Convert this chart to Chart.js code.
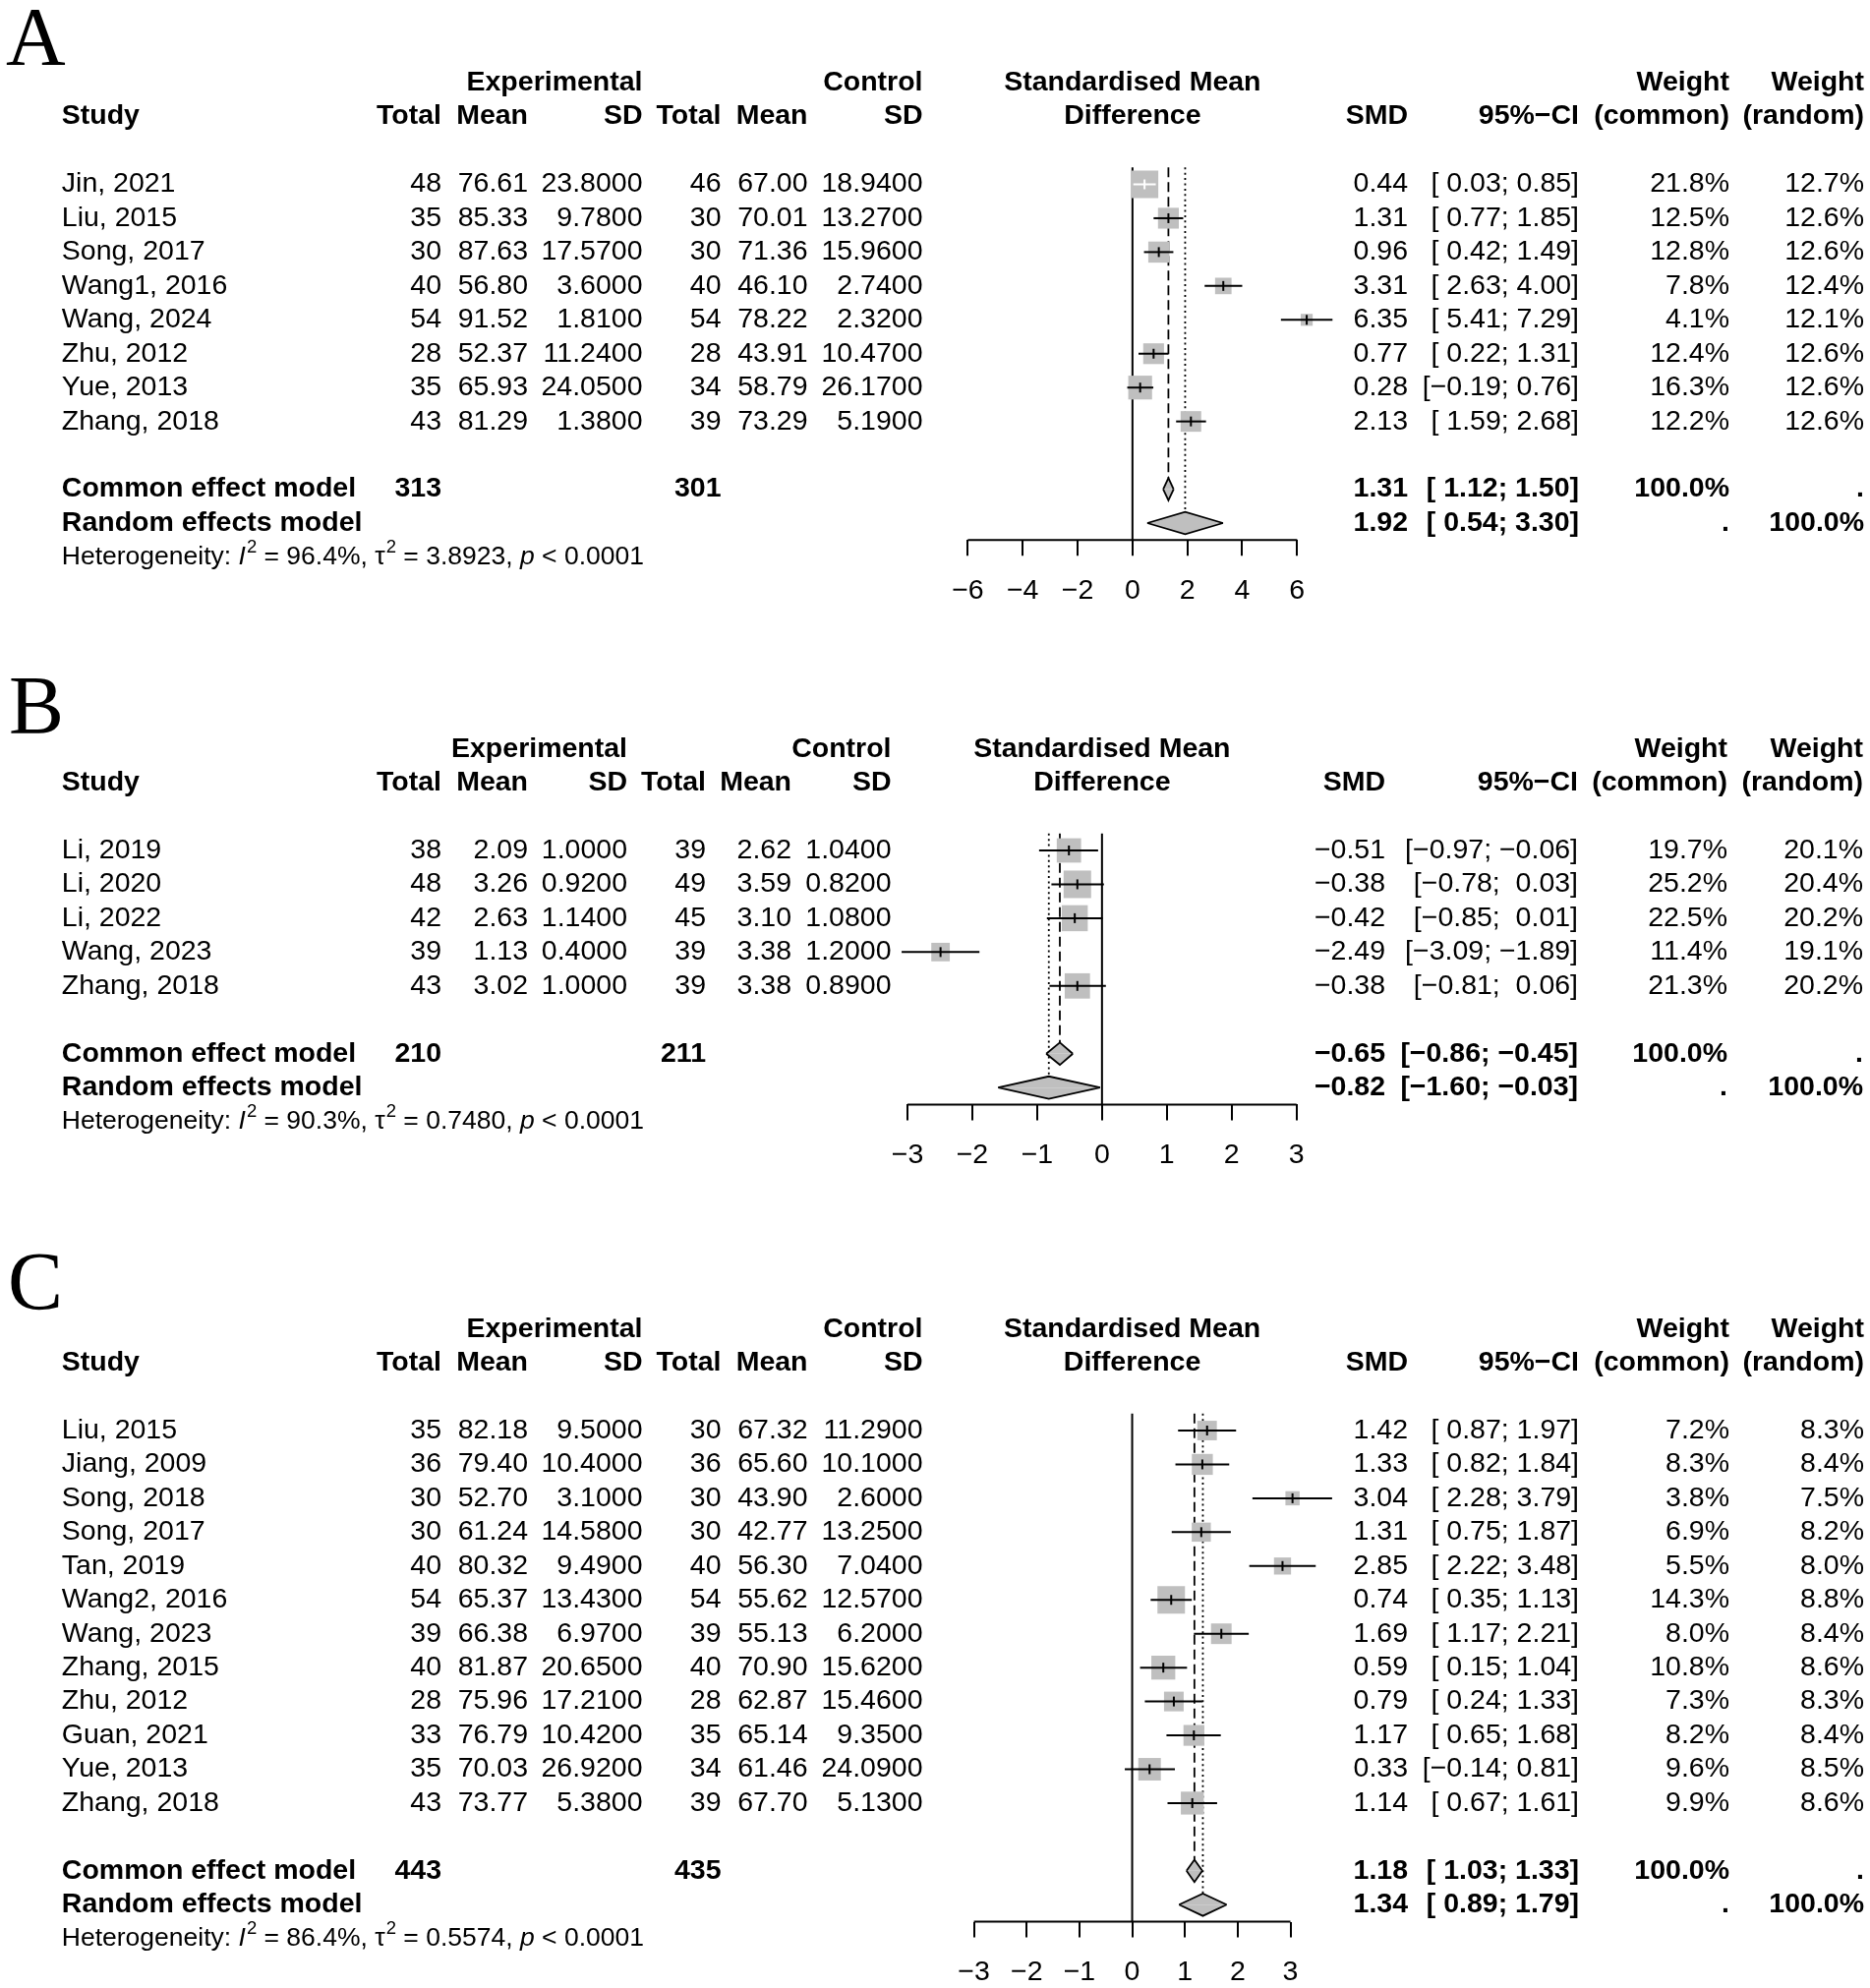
<!DOCTYPE html>
<html>
<head>
<meta charset="utf-8">
<title>Forest plots</title>
<script src="https://cdn.jsdelivr.net/npm/chart.js@4.4.1/dist/chart.umd.min.js"></script>
<style>
  html, body { margin: 0; padding: 0; background: #fff; }
  #page { position: relative; width: 1902px; height: 2022px; overflow: hidden; }
  canvas { position: absolute; left: 0; }
</style>
</head>
<body>
<div id="page">
  <canvas id="panelA"></canvas>
  <canvas id="panelB"></canvas>
  <canvas id="panelC"></canvas>
</div>
<script>
// Panel A
const studiesA = ["Jin, 2021", "Liu, 2015", "Song, 2017", "Wang1, 2016", "Wang, 2024", "Zhu, 2012", "Yue, 2013", "Zhang, 2018"];
const expTotalA = [48, 35, 30, 40, 54, 28, 35, 43];
const expMeanA = [76.61, 85.33, 87.63, 56.80, 91.52, 52.37, 65.93, 81.29];
const expSdA = [23.8, 9.78, 17.57, 3.6, 1.81, 11.24, 24.05, 1.38];
const ctrlTotalA = [46, 30, 30, 40, 54, 28, 34, 39];
const ctrlMeanA = [67.00, 70.01, 71.36, 46.10, 78.22, 43.91, 58.79, 73.29];
const ctrlSdA = [18.94, 13.27, 15.96, 2.74, 2.32, 10.47, 26.17, 5.19];
const smdA = [0.44, 1.31, 0.96, 3.31, 6.35, 0.77, 0.28, 2.13];
const lowerA = [0.03, 0.77, 0.42, 2.63, 5.41, 0.22, -0.19, 1.59];
const upperA = [0.85, 1.85, 1.49, 4.00, 7.29, 1.31, 0.76, 2.68];
const wCommonA = [21.8, 12.5, 12.8, 7.8, 4.1, 12.4, 16.3, 12.2];
const wRandomA = [12.7, 12.6, 12.6, 12.4, 12.1, 12.6, 12.6, 12.6];
const commonA = [1.31, 1.12, 1.50];
const randomA = [1.92, 0.54, 3.30];
const totalsA = [313, 301];
const hetA = [96.4, 3.8923];
const ticksA = [-6, -4, -2, 0, 2, 4, 6];

// Panel B
const studiesB = ["Li, 2019", "Li, 2020", "Li, 2022", "Wang, 2023", "Zhang, 2018"];
const expTotalB = [38, 48, 42, 39, 43];
const expMeanB = [2.09, 3.26, 2.63, 1.13, 3.02];
const expSdB = [1.0, 0.92, 1.14, 0.40, 1.0];
const ctrlTotalB = [39, 49, 45, 39, 39];
const ctrlMeanB = [2.62, 3.59, 3.10, 3.38, 3.38];
const ctrlSdB = [1.04, 0.82, 1.08, 1.20, 0.89];
const smdB = [-0.51, -0.38, -0.42, -2.49, -0.38];
const lowerB = [-0.97, -0.78, -0.85, -3.09, -0.81];
const upperB = [-0.06, 0.03, 0.01, -1.89, 0.06];
const wCommonB = [19.7, 25.2, 22.5, 11.4, 21.3];
const wRandomB = [20.1, 20.4, 20.2, 19.1, 20.2];
const commonB = [-0.65, -0.86, -0.45];
const randomB = [-0.82, -1.60, -0.03];
const totalsB = [210, 211];
const hetB = [90.3, 0.7480];
const ticksB = [-3, -2, -1, 0, 1, 2, 3];

// Panel C
const studiesC = ["Liu, 2015", "Jiang, 2009", "Song, 2018", "Song, 2017", "Tan, 2019", "Wang2, 2016", "Wang, 2023", "Zhang, 2015", "Zhu, 2012", "Guan, 2021", "Yue, 2013", "Zhang, 2018"];
const expTotalC = [35, 36, 30, 30, 40, 54, 39, 40, 28, 33, 35, 43];
const expMeanC = [82.18, 79.40, 52.70, 61.24, 80.32, 65.37, 66.38, 81.87, 75.96, 76.79, 70.03, 73.77];
const expSdC = [9.50, 10.40, 3.10, 14.58, 9.49, 13.43, 6.97, 20.65, 17.21, 10.42, 26.92, 5.38];
const ctrlTotalC = [30, 36, 30, 30, 40, 54, 39, 40, 28, 35, 34, 39];
const ctrlMeanC = [67.32, 65.60, 43.90, 42.77, 56.30, 55.62, 55.13, 70.90, 62.87, 65.14, 61.46, 67.70];
const ctrlSdC = [11.29, 10.10, 2.60, 13.25, 7.04, 12.57, 6.20, 15.62, 15.46, 9.35, 24.09, 5.13];
const smdC = [1.42, 1.33, 3.04, 1.31, 2.85, 0.74, 1.69, 0.59, 0.79, 1.17, 0.33, 1.14];
const lowerC = [0.87, 0.82, 2.28, 0.75, 2.22, 0.35, 1.17, 0.15, 0.24, 0.65, -0.14, 0.67];
const upperC = [1.97, 1.84, 3.79, 1.87, 3.48, 1.13, 2.21, 1.04, 1.33, 1.68, 0.81, 1.61];
const wCommonC = [7.2, 8.3, 3.8, 6.9, 5.5, 14.3, 8.0, 10.8, 7.3, 8.2, 9.6, 9.9];
const wRandomC = [8.3, 8.4, 7.5, 8.2, 8.0, 8.8, 8.4, 8.6, 8.3, 8.4, 8.5, 8.6];
const commonC = [1.18, 1.03, 1.33];
const randomC = [1.34, 0.89, 1.79];
const totalsC = [443, 435];
const hetC = [86.4, 0.5574];
const ticksC = [-3, -2, -1, 0, 1, 2, 3];

const FONT = '"Liberation Sans", Arial, sans-serif';
const SIZE = 28.5;
const GRAY = "#bfbfbf";
const MINUS = "\u2212";
const ROW_STEP = 34.45;
const MAX_SQUARE = 28;
const DIAMOND_H = 0.33;
const AXIS_H = 66;

Chart.defaults.font.family = FONT;

function fmt(v, d) {
  return (v < 0 ? MINUS : "") + Math.abs(v).toFixed(d);
}

function padded(v, pad) {
  return (pad && v >= 0 ? " " : "") + fmt(v, 2);
}

function ciText(lo, hi, padLo, padHi) {
  return `[${padded(lo, padLo)}; ${padded(hi, padHi)}]`;
}

function drawHet(ctx, x, y, het) {
  const parts = [
    ["Heterogeneity: ", ""],
    ["I", "italic "],
    ["2", "sup"],
    [` = ${het[0].toFixed(1)}%, `, ""],
    ["\u03c4", ""],
    ["2", "sup"],
    [` = ${het[1].toFixed(4)}, `, ""],
    ["p", "italic "],
    [" < 0.0001", ""],
  ];
  ctx.textAlign = "left";
  let cx = x;
  parts.forEach(([t, s]) => {
    if (s === "sup") {
      ctx.font = `18.5px ${FONT}`;
      ctx.fillText(t, cx + 1, y - 10);
      cx += ctx.measureText(t).width + 1;
    } else {
      ctx.font = `${s}26.5px ${FONT}`;
      ctx.fillText(t, cx, y);
      cx += ctx.measureText(t).width;
    }
  });
}

function makeTextPlugin(p) {
  return {
    id: "forestText",
    afterDraw(chart) {
      const ctx = chart.ctx;
      const n = p.studies.length;
      const yOf = (r) => chart.scales.y.getPixelForValue(r);
      const mid = chart.scales.x.getPixelForValue((p.ticks[0] + p.ticks[p.ticks.length - 1]) / 2);
      const c = p.cols;
      const rc = p.rcols;
      const allLo = p.lower.concat([p.common[1], p.random[1]]);
      const allHi = p.upper.concat([p.common[2], p.random[2]]);
      const padLo = allLo.some((v) => v < 0);
      const padHi = allHi.some((v) => v < 0);

      const put = (text, x, row, align, bold) => {
        ctx.font = `${bold ? "bold " : ""}${SIZE}px ${FONT}`;
        ctx.textAlign = align;
        ctx.fillText(text, x, yOf(row));
      };

      ctx.save();
      ctx.fillStyle = "#000";
      ctx.textBaseline = "alphabetic";
      ctx.font = '84px "Liberation Serif", "Times New Roman", serif';
      ctx.textAlign = "left";
      ctx.fillText(p.letter, p.letterX, p.letterY - p.top);

      ctx.textBaseline = "middle";
      put("Experimental", c[2], -3, "right", true);
      put("Control", c[5], -3, "right", true);
      put("Standardised Mean", mid, -3, "center", true);
      put("Weight", rc[2], -3, "right", true);
      put("Weight", rc[3], -3, "right", true);

      put("Study", 62.8, -2, "left", true);
      put("Total", c[0], -2, "right", true);
      put("Mean", c[1], -2, "right", true);
      put("SD", c[2], -2, "right", true);
      put("Total", c[3], -2, "right", true);
      put("Mean", c[4], -2, "right", true);
      put("SD", c[5], -2, "right", true);
      put("Difference", mid, -2, "center", true);
      put("SMD", rc[0], -2, "right", true);
      put("95%\u2212CI", rc[1], -2, "right", true);
      put("(common)", rc[2], -2, "right", true);
      put("(random)", rc[3], -2, "right", true);

      p.studies.forEach((s, i) => {
        put(s, 62.8, i, "left", false);
        put(String(p.expTotal[i]), c[0], i, "right", false);
        put(p.expMean[i].toFixed(2), c[1], i, "right", false);
        put(p.expSd[i].toFixed(4), c[2], i, "right", false);
        put(String(p.ctrlTotal[i]), c[3], i, "right", false);
        put(p.ctrlMean[i].toFixed(2), c[4], i, "right", false);
        put(p.ctrlSd[i].toFixed(4), c[5], i, "right", false);
        put(fmt(p.smd[i], 2), rc[0], i, "right", false);
        put(ciText(p.lower[i], p.upper[i], padLo, padHi), rc[1], i, "right", false);
        put(p.wCommon[i].toFixed(1) + "%", rc[2], i, "right", false);
        put(p.wRandom[i].toFixed(1) + "%", rc[3], i, "right", false);
      });

      const cr = n + 1;
      put("Common effect model", 62.8, cr, "left", true);
      put(String(p.totals[0]), c[0], cr, "right", true);
      put(String(p.totals[1]), c[3], cr, "right", true);
      put(fmt(p.common[0], 2), rc[0], cr, "right", true);
      put(ciText(p.common[1], p.common[2], padLo, padHi), rc[1], cr, "right", true);
      put("100.0%", rc[2], cr, "right", true);
      put(".", rc[3], cr, "right", true);

      const rr = n + 2;
      put("Random effects model", 62.8, rr, "left", true);
      put(fmt(p.random[0], 2), rc[0], rr, "right", true);
      put(ciText(p.random[1], p.random[2], padLo, padHi), rc[1], rr, "right", true);
      put(".", rc[2], rr, "right", true);
      put("100.0%", rc[3], rr, "right", true);

      drawHet(ctx, 62.8, yOf(n + 3), p.het);
      ctx.restore();
    },
  };
}

function drawForest(p) {
  const canvas = document.getElementById(p.id);
  canvas.width = 1902;
  canvas.height = p.height;
  canvas.style.top = p.top + "px";

  const n = p.studies.length;
  const commonRow = n + 1;
  const randomRow = n + 2;
  const axisRow = n + 2.5;
  const tMin = p.ticks[0];
  const tMax = p.ticks[p.ticks.length - 1];
  const areaTop = p.row0 - 0.5 * ROW_STEP - p.top;
  const axisY = p.row0 + axisRow * ROW_STEP - p.top;
  const pxPerUnit = (p.xRight - p.xLeft) / (tMax - tMin);
  // widen the scale so that marks beyond the last tick are still drawn
  const xMin = Math.min(tMin, ...p.lower) - 0.5;
  const xMax = Math.max(tMax, ...p.upper) + 0.5;
  const padLeft = p.xLeft - (tMin - xMin) * pxPerUnit;
  const padRight = 1902 - (p.xRight + (xMax - tMax) * pxPerUnit);
  const maxW = Math.max(...p.wCommon);
  const side = p.wCommon.map((w) => MAX_SQUARE * Math.sqrt(w / maxW));
  const inside = p.smd.map((v, i) => (p.upper[i] - p.lower[i]) * pxPerUnit < side[i]);

  const datasets = [];
  datasets.push({
    type: "line",
    data: [{ x: tMin, y: axisRow }, { x: tMax, y: axisRow }],
    borderColor: "#000",
    borderWidth: 2,
    pointRadius: 0,
    clip: false,
    order: 7,
  });
  datasets.push({
    type: "line",
    data: [{ x: 0, y: -0.5 }, { x: 0, y: axisRow }],
    borderColor: "#000",
    borderWidth: 2,
    pointRadius: 0,
    clip: false,
    order: 6,
  });
  datasets.push({
    type: "line",
    data: [{ x: p.common[0], y: -0.5 }, { x: p.common[0], y: commonRow - DIAMOND_H }],
    borderColor: "#000",
    borderWidth: 1.8,
    borderDash: [10, 5],
    pointRadius: 0,
    clip: false,
    order: 6,
  });
  datasets.push({
    type: "line",
    data: [{ x: p.random[0], y: -0.5 }, { x: p.random[0], y: randomRow - DIAMOND_H }],
    borderColor: "#000",
    borderWidth: 1.8,
    borderDash: [2, 3.4],
    pointRadius: 0,
    clip: false,
    order: 6,
  });
  datasets.push({
    type: "scatter",
    data: p.smd.map((v, i) => ({ x: v, y: i })),
    pointStyle: "rect",
    pointRadius: side.map((s) => s / Math.SQRT2),
    pointBackgroundColor: GRAY,
    pointBorderColor: GRAY,
    pointBorderWidth: 0,
    clip: false,
    order: 5,
  });
  p.smd.forEach((v, i) => {
    datasets.push({
      type: "line",
      data: [{ x: p.lower[i], y: i }, { x: p.upper[i], y: i }],
      borderColor: inside[i] ? "#fff" : "#000",
      borderWidth: 2,
      pointRadius: 0,
      clip: false,
      order: 4,
    });
  });
  datasets.push({
    type: "scatter",
    data: p.smd.map((v, i) => ({ x: v, y: i })),
    pointStyle: "line",
    pointRotation: 90,
    pointRadius: side.map((s) => Math.min(5, s * 0.42)),
    pointBorderColor: inside.map((b) => (b ? "#fff" : "#000")),
    pointBorderWidth: 2,
    clip: false,
    order: 3,
  });
  [[p.common, commonRow], [p.random, randomRow]].forEach(([est, row]) => {
    [-DIAMOND_H, DIAMOND_H].forEach((h) => {
      datasets.push({
        type: "line",
        data: [{ x: est[1], y: row }, { x: est[0], y: row + h }, { x: est[2], y: row }],
        fill: { value: row },
        backgroundColor: GRAY,
        borderColor: "#000",
        borderWidth: 1.8,
        pointRadius: 0,
        tension: 0,
        clip: false,
        order: 1,
      });
    });
  });

  new Chart(canvas.getContext("2d"), {
    type: "scatter",
    data: { datasets: datasets },
    options: {
      responsive: false,
      animation: false,
      devicePixelRatio: 1,
      events: [],
      layout: {
        padding: {
          left: padLeft,
          right: padRight,
          top: areaTop,
          bottom: p.height - axisY - AXIS_H,
        },
      },
      plugins: { legend: { display: false }, tooltip: { enabled: false } },
      scales: {
        x: {
          type: "linear",
          position: "bottom",
          min: xMin,
          max: xMax,
          afterBuildTicks: (s) => {
            s.ticks = p.ticks.map((v) => ({ value: v }));
          },
          afterFit: (s) => {
            s.height = AXIS_H;
          },
          ticks: {
            color: "#000",
            font: { family: FONT, size: SIZE },
            padding: 19,
            maxRotation: 0,
            autoSkip: false,
            callback: (v) => fmt(v, 0),
          },
          grid: { drawOnChartArea: false, drawTicks: true, tickLength: 16, color: "#000", lineWidth: 2 },
          border: { display: false },
        },
        y: { type: "linear", reverse: true, min: -0.5, max: axisRow, display: false },
      },
    },
    plugins: [makeTextPlugin(p)],
  });
}

const colsAC = [449, 537, 653.5, 733.5, 821.5, 938.5];
const rcolsAC = [1432, 1606, 1759, 1896];

const panels = [
  {
    id: "panelA", letter: "A", top: 0, height: 650, row0: 187.5, letterX: 6, letterY: 66,
    xLeft: 984.4, xRight: 1319.3, cols: colsAC, rcols: rcolsAC,
    studies: studiesA, expTotal: expTotalA, expMean: expMeanA, expSd: expSdA,
    ctrlTotal: ctrlTotalA, ctrlMean: ctrlMeanA, ctrlSd: ctrlSdA, smd: smdA,
    lower: lowerA, upper: upperA, wCommon: wCommonA, wRandom: wRandomA,
    common: commonA, random: randomA, totals: totalsA, het: hetA, ticks: ticksA,
  },
  {
    id: "panelB", letter: "B", top: 650, height: 590, row0: 865, letterX: 9, letterY: 746,
    xLeft: 923, xRight: 1318.7,
    cols: [449, 537, 638, 718, 805, 906.5], rcols: [1409, 1605, 1757, 1895],
    studies: studiesB, expTotal: expTotalB, expMean: expMeanB, expSd: expSdB,
    ctrlTotal: ctrlTotalB, ctrlMean: ctrlMeanB, ctrlSd: ctrlSdB, smd: smdB,
    lower: lowerB, upper: upperB, wCommon: wCommonB, wRandom: wRandomB,
    common: commonB, random: randomB, totals: totalsB, het: hetB, ticks: ticksB,
  },
  {
    id: "panelC", letter: "C", top: 1240, height: 782, row0: 1455, letterX: 8, letterY: 1332,
    xLeft: 990.6, xRight: 1312.5, cols: colsAC, rcols: rcolsAC,
    studies: studiesC, expTotal: expTotalC, expMean: expMeanC, expSd: expSdC,
    ctrlTotal: ctrlTotalC, ctrlMean: ctrlMeanC, ctrlSd: ctrlSdC, smd: smdC,
    lower: lowerC, upper: upperC, wCommon: wCommonC, wRandom: wRandomC,
    common: commonC, random: randomC, totals: totalsC, het: hetC, ticks: ticksC,
  },
];

panels.forEach(drawForest);
</script>
</body>
</html>
